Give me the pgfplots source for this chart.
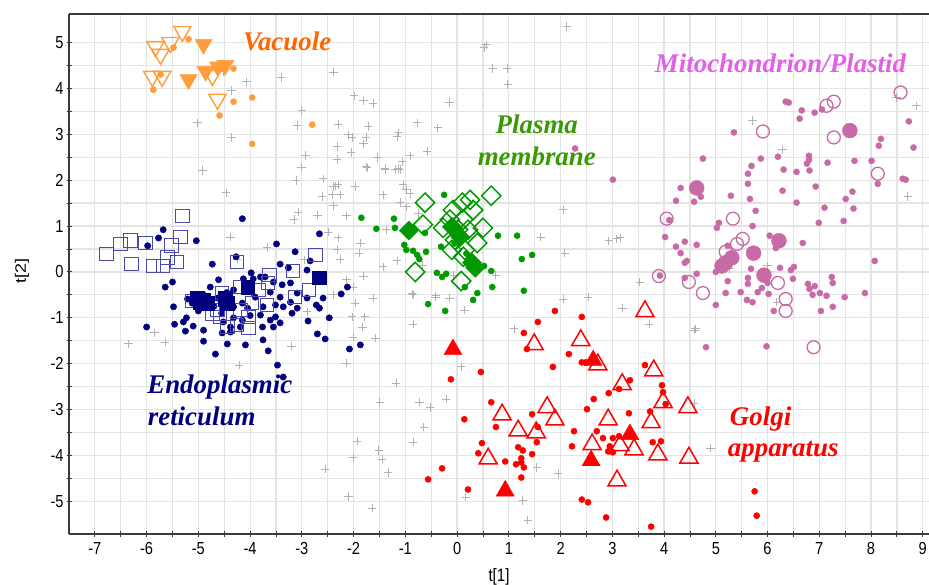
\documentclass[border=0pt]{standalone}
\usepackage{fontspec}
\setmainfont{Liberation Sans}
\newfontfamily\ann{Liberation Serif}
\usepackage{pgfplots}
\pgfplotsset{compat=1.18}
\definecolor{gcross}{HTML}{B2B2B2}
\definecolor{gridc}{HTML}{E4E4E4}
\definecolor{axc}{HTML}{3A3A3A}
\definecolor{vacm}{HTML}{FF9D3C}
\definecolor{vact}{HTML}{FF6600}
\definecolor{ern}{HTML}{000080}
\definecolor{ersq}{HTML}{4A4AAE}
\definecolor{pmg}{HTML}{009A00}
\definecolor{pmt}{HTML}{3A9A06}
\definecolor{gor}{HTML}{FF0000}
\definecolor{mit}{HTML}{C86AA6}
\definecolor{mitt}{HTML}{E060E6}
\begin{document}
\begin{tikzpicture}[x=1bp,y=1bp]
\begin{axis}[
  at={(69bp,51bp)}, anchor=south west,
  scale only axis, width=860bp, height=520bp,
  xmin=-7.5, xmax=9.12, ymin=-5.71, ymax=5.62,
  xtick={-7,-6,...,9}, ytick={-5,-4,...,5},
  minor tick num=1, grid=both,
  grid style={color=gridc, line width=1.2bp},
  minor grid style={color=gridc, line width=1.2bp},
  axis lines*=left,
  axis line style={line width=1.1bp, color=axc},
  tick align=center, major tick length=5bp, minor tick length=5bp,
  every tick/.style={color=axc, line width=0.9bp},
  /pgf/number format/assume math mode=true,
  tick label style={font=\fontsize{17.5}{17.5}\selectfont, xscale=0.84},
  xticklabel style={yshift=-2bp},
  yticklabel style={xshift=0bp},
  only marks,
]
% unassigned
\addplot[mark=+, mark size=4.2, gcross, line width=1bp] table {
-4.52 4.37
-4.36 3.95
-4.07 4.14
-3.40 4.24
-5.02 3.25
-4.36 2.93
-3.00 3.52
-3.09 3.19
-2.93 2.54
-3.01 2.28
-3.11 1.99
-4.92 2.21
-4.46 1.72
-3.07 1.30
-3.15 1.14
-2.70 1.24
-4.38 0.76
-3.67 0.53
-2.95 0.26
-2.61 1.64
-2.39 1.86
-2.30 1.90
-2.41 1.68
-2.26 1.68
-2.39 1.44
-1.97 1.86
-2.14 1.22
-2.49 0.87
-2.30 0.74
-2.32 0.48
-1.87 0.63
-1.89 0.41
-2.26 0.28
-1.81 -0.09
-2.14 -0.17
-2.01 -0.33
-2.39 -0.50
-1.97 -0.68
-1.62 -0.57
-2.03 -0.98
-1.78 -0.98
-1.83 -1.20
-2.01 -1.42
-1.58 -1.44
-2.14 -1.99
-2.90 -0.87
-3.20 -1.62
-4.21 -2.03
-5.85 -1.33
-5.64 -1.53
-6.35 -1.57
-4.25 0.28
-1.74 2.27
-1.39 2.25
-1.14 2.25
-1.06 2.40
-2.35 1.87
-1.04 1.90
-0.91 1.70
-1.43 1.68
-1.10 1.51
-0.98 1.42
-0.75 1.27
-1.37 0.92
-1.43 0.11
-1.16 0.24
-0.66 0.15
-0.87 -0.48
-0.42 -0.55
-0.15 -0.57
-0.06 -0.07
0.75 -0.07
0.14 -0.83
1.62 0.76
2.12 5.35
0.52 4.89
0.56 4.95
0.69 4.43
0.97 4.43
0.98 4.08
-2.39 4.35
-1.99 3.84
-1.81 3.73
-1.62 3.67
-0.15 3.69
-2.30 3.21
-1.72 3.17
-0.77 3.25
-0.37 3.14
-2.10 2.99
-2.03 2.93
-1.76 2.93
-1.81 2.79
-1.14 3.03
-1.16 2.95
-2.32 2.73
-2.32 2.45
-2.05 2.60
-1.54 2.49
-1.76 2.29
-1.39 2.23
-1.20 2.23
-1.10 2.23
-0.91 2.53
-0.58 2.62
-2.59 2.03
-0.98 1.79
-0.85 -0.50
-0.41 -0.52
2.05 -0.59
2.53 -0.55
3.20 -0.79
-0.85 -1.14
1.10 -1.24
3.71 -1.14
4.59 -1.27
0.08 -2.07
-0.73 -2.84
-0.52 -2.95
-0.21 -2.77
-0.64 -3.38
-0.85 -3.71
1.54 -4.26
1.95 -4.39
4.58 -2.86
4.90 -3.84
0.17 -4.91
1.27 -4.98
1.37 -5.41
8.49 3.80
8.88 3.62
5.71 3.30
6.29 2.66
8.71 1.64
6.00 0.13
5.27 0.07
6.18 -0.66
3.53 -0.22
4.61 -1.24
3.15 0.74
2.05 1.35
2.08 0.41
2.93 0.68
3.09 0.72
-1.18 -2.42
-1.49 -2.84
-1.93 -3.69
-1.51 -3.89
-1.45 -4.08
-2.01 -4.04
-2.55 -4.30
-1.33 -4.37
-2.10 -4.89
-1.64 -5.15
};
% Vacuole
\addplot[mark=*, mark size=3.1, vacm] table {
-5.19 5.07
-5.48 4.89
-5.73 4.30
-5.87 3.97
-4.32 4.43
-4.32 3.71
-3.96 3.80
-4.59 3.41
-3.96 2.79
-2.80 3.21
};
\addplot[mark=triangle, mark size=10, vacm, line width=1.4bp, mark options={rotate=180}] table {
-5.83 4.91
-5.73 4.74
-5.54 5.00
-5.31 5.24
-5.89 4.26
-5.70 4.26
-4.73 4.28
-4.63 3.76
};
\addplot[mark=triangle*, mark size=10, vacm, mark options={rotate=180}] table {
-4.90 4.96
-5.19 4.19
-4.86 4.37
-4.62 4.47
-4.48 4.50
};
% ER
\addplot[mark=*, mark size=3.2, ern] table {
-5.68 0.92
-5.77 0.74
-5.98 0.57
-5.04 0.68
-4.15 1.16
-3.49 0.61
-3.13 0.44
-4.73 0.17
-5.64 -0.33
-5.50 -0.22
-4.27 0.33
-2.84 0.24
-2.66 0.83
-3.98 -0.02
-3.42 0.17
-3.26 0.09
-2.90 0.04
-4.61 -0.17
-4.77 -0.33
-4.13 -0.15
-3.94 -0.15
-3.80 -0.11
-3.71 -0.11
-3.55 -0.22
-3.38 -0.28
-3.22 -0.24
-3.09 -0.46
-5.21 -0.59
-5.12 -0.68
-5.48 -0.76
-3.61 -0.44
-3.42 -0.55
-3.51 -0.72
-3.36 -0.76
-3.22 -0.66
-3.09 -0.79
-3.19 -0.90
-2.90 -0.57
-2.59 -0.57
-2.72 -0.72
-2.66 -0.79
-2.12 -0.33
-2.24 -0.48
-2.47 -1.00
-2.88 -1.07
-3.75 -0.76
-3.80 -0.94
-3.76 -1.20
-3.61 -1.05
-3.51 -0.98
-3.42 -1.11
-3.55 -1.20
-3.75 -1.48
-4.05 -0.79
-4.15 -0.68
-4.32 -0.76
-4.32 -1.00
-4.15 -1.05
-4.19 -1.20
-4.38 -1.20
-4.52 -1.09
-4.54 -1.33
-4.38 -1.31
-4.44 -1.57
-4.09 -1.59
-4.67 -1.79
-3.65 -1.72
-3.47 -2.03
-3.36 -2.29
-2.70 -1.35
-2.55 -1.46
-2.08 -1.68
-1.87 -1.59
-4.90 -1.27
-4.90 -1.51
-5.10 -1.18
-5.23 -1.00
-5.29 -1.09
-5.25 -1.29
-5.46 -1.14
-6.00 -1.20
-4.90 -0.50
-4.63 -0.57
-4.32 -0.39
-4.70 -0.75
-4.55 -0.90
-4.00 -0.95
-3.90 -0.55
-4.45 -0.45
-5.00 -0.85
};
\addplot[mark=square, mark size=6.8, ersq, line width=1bp] table {
-6.78 0.39
-6.51 0.61
-6.31 0.68
-6.02 0.63
-5.31 1.22
-5.35 0.76
-5.52 0.57
-6.29 0.17
-5.87 0.13
-5.68 0.13
-5.60 0.31
-5.41 0.22
-4.25 0.22
-2.74 0.37
-3.17 0.02
-3.63 -0.07
-2.86 -0.39
-3.13 -0.55
-4.54 -0.46
-5.12 -0.63
-4.19 -0.33
-3.84 -0.39
-3.65 -0.24
-4.58 -0.98
-4.44 -1.20
-4.03 -1.22
-4.03 -0.98
-4.19 -0.83
-3.67 -0.72
-3.96 -0.68
-4.25 -1.16
-4.63 -0.83
-4.73 -0.90
};
\addplot[mark=square*, mark size=6.8, ern] table {
-4.96 -0.66
-4.83 -0.68
-4.48 -0.57
-4.05 -0.33
-2.66 -0.13
-5.02 -0.57
-4.44 -0.68
-4.90 -0.62
};
% Plasma membrane
\addplot[mark=*, mark size=3.1, pmg] table {
-0.25 1.68
-1.85 1.18
-1.56 0.94
-1.22 1.16
-1.20 0.96
-1.02 0.59
-0.98 0.48
-0.85 0.46
-0.77 0.37
-0.73 0.28
-0.60 0.44
-0.62 0.85
-0.31 0.55
-0.39 -0.02
-0.21 -0.04
-0.29 -0.11
-0.56 -0.70
-0.23 -0.85
0.15 -0.33
0.39 -0.46
0.31 -0.61
0.52 0.13
0.66 0.02
0.68 -0.33
0.79 0.79
1.16 0.79
1.25 0.28
1.45 0.37
1.29 -0.41
-0.05 0.62
0.18 0.40
};
\addplot[mark=square, mark size=6.8, pmg, line width=1.5bp, mark options={rotate=45}] table {
-0.62 1.51
-0.66 1.03
-0.81 0.00
0.08 -0.20
0.66 1.66
0.50 0.96
-0.27 0.96
-0.08 1.35
0.10 1.51
0.25 1.57
0.31 1.35
0.12 1.14
-0.04 0.70
0.15 0.48
-0.10 0.48
0.12 0.33
0.39 0.63
0.21 0.92
0.02 0.92
-0.14 1.14
};
\addplot[mark=square*, mark size=6.8, pmg, mark options={rotate=45}] table {
-0.93 0.90
0.29 0.20
0.35 0.09
-0.10 0.98
0.06 0.76
};
% Golgi
\addplot[mark=*, mark size=3.1, gor] table {
1.89 -0.85
2.41 -0.98
1.56 -1.09
1.29 -1.33
1.35 -1.68
2.16 -1.79
2.41 -1.97
2.49 -1.97
1.85 -2.07
0.46 -2.18
-0.12 -2.34
3.63 -2.03
3.34 -2.36
3.13 -2.55
2.93 -2.64
2.64 -2.77
3.96 -2.47
3.98 -2.62
4.03 -2.88
0.66 -2.84
2.51 -2.99
3.32 -3.08
3.73 -3.04
0.14 -3.21
1.45 -3.10
0.75 -3.38
1.56 -3.38
2.26 -3.47
2.70 -3.47
2.82 -3.62
3.01 -3.62
3.13 -3.58
1.54 -3.71
0.48 -3.73
2.22 -3.80
1.18 -3.82
1.27 -3.89
2.95 -3.80
2.92 -3.91
3.01 -3.93
3.78 -3.71
3.94 -3.69
0.41 -3.95
1.45 -3.97
1.24 -4.06
1.24 -4.15
0.93 -4.13
1.14 -4.19
1.29 -4.26
-0.29 -4.28
1.24 -4.48
-0.56 -4.52
0.21 -4.74
2.41 -4.96
2.53 -5.02
2.88 -5.35
3.75 -5.55
5.75 -4.78
5.79 -5.31
};
\addplot[mark=triangle, mark size=10.5, gor, line width=1.5bp] table {
3.63 -0.86
1.49 -1.58
2.39 -1.49
2.72 -2.02
3.80 -2.15
3.19 -2.45
3.98 -2.84
4.46 -2.95
0.87 -3.11
1.74 -2.95
1.89 -3.22
1.18 -3.46
1.53 -3.50
2.92 -3.22
3.75 -3.28
2.61 -3.76
3.15 -3.78
3.42 -3.87
3.88 -3.98
4.48 -4.05
0.60 -4.07
3.09 -4.55
};
\addplot[mark=triangle*, mark size=10.5, gor] table {
-0.08 -1.69
2.63 -1.93
3.34 -3.54
2.59 -4.11
0.93 -4.77
};
% Mitochondrion / Plastid
\addplot[mark=*, mark size=3.1, mit] table {
6.35 3.71
6.41 3.69
6.66 3.52
6.91 3.47
7.05 3.54
6.62 3.34
8.73 3.28
8.82 2.71
8.19 2.90
8.15 2.75
5.35 3.04
4.75 2.47
5.87 2.47
6.20 2.51
6.80 2.53
6.80 2.44
6.76 2.36
7.16 2.38
7.68 2.42
8.01 2.42
5.69 2.31
6.31 2.23
6.56 2.18
6.81 2.21
5.62 2.14
5.62 1.92
8.61 2.03
8.67 2.01
8.13 1.92
4.32 1.83
4.71 1.64
4.58 1.53
4.23 1.55
5.29 1.66
5.66 1.59
6.29 1.77
6.93 1.86
7.64 1.75
7.51 1.59
7.66 1.38
6.56 1.51
7.10 1.40
5.77 1.33
7.47 1.11
6.99 1.07
5.71 1.00
5.06 1.07
5.02 0.96
4.02 0.76
4.40 0.66
4.63 0.59
4.23 0.55
4.32 0.41
4.44 0.24
4.40 0.20
5.23 0.57
6.04 0.79
6.16 0.52
6.68 0.63
8.07 0.24
4.63 -0.04
5.00 0.00
4.40 -0.13
5.68 0.07
6.24 0.09
6.45 0.04
6.51 0.11
5.62 -0.13
5.62 -0.26
6.00 -0.24
5.23 -0.20
6.49 -0.15
7.24 -0.11
7.26 -0.24
6.78 -0.26
6.81 -0.37
6.91 -0.31
6.87 -0.50
7.01 -0.46
7.14 -0.52
7.49 -0.55
7.88 -0.46
7.26 -0.76
7.03 -0.85
5.81 -0.44
5.89 -0.35
5.48 -0.44
5.19 -0.46
5.60 -0.61
5.71 -0.66
6.02 -0.48
6.12 -0.85
5.00 -0.72
4.81 -1.64
5.98 -1.62
2.28 2.69
3.01 2.01
4.10 1.13
3.92 -0.08
};
\addplot[mark=o, mark size=6.5, mit, line width=1.3bp] table {
8.57 3.91
7.28 3.71
7.14 3.62
5.91 3.06
7.28 2.93
8.13 2.14
4.05 1.16
5.33 1.16
5.52 0.72
5.41 0.61
5.19 0.44
3.90 -0.09
4.48 -0.22
4.75 -0.46
6.20 -0.24
6.35 -0.59
6.35 -0.85
6.89 -1.64
};
\addplot[mark=*, mark size=7.5, mit] table {
7.59 3.08
4.63 1.83
6.22 0.68
5.73 0.41
5.31 0.31
5.19 0.20
5.12 0.13
5.93 -0.07
};
% annotations
\node[anchor=base west, font=\ann\bfseries\itshape\fontsize{27}{27}\selectfont, text=vact, inner sep=0pt] at (axis cs:-4.14,4.83) {Vacuole};
\node[anchor=base west, font=\ann\bfseries\itshape\fontsize{27}{27}\selectfont, text=mitt, inner sep=0pt] at (axis cs:3.82,4.35) {Mitochondrion/Plastid};
\node[anchor=base, font=\ann\bfseries\itshape\fontsize{27}{27}\selectfont, text=pmt, inner sep=0pt] at (axis cs:1.54,3.02) {Plasma};
\node[anchor=base, font=\ann\bfseries\itshape\fontsize{27}{27}\selectfont, text=pmt, inner sep=0pt] at (axis cs:1.54,2.31) {membrane};
\node[anchor=base west, font=\ann\bfseries\itshape\fontsize{27}{27}\selectfont, text=ern, inner sep=0pt] at (axis cs:-5.99,-2.64) {Endoplasmic};
\node[anchor=base west, font=\ann\bfseries\itshape\fontsize{27}{27}\selectfont, text=ern, inner sep=0pt] at (axis cs:-5.98,-3.34) {reticulum};
\node[anchor=base west, font=\ann\bfseries\itshape\fontsize{27}{27}\selectfont, text=gor, inner sep=0pt] at (axis cs:5.27,-3.34) {Golgi};
\node[anchor=base west, font=\ann\bfseries\itshape\fontsize{27}{27}\selectfont, text=gor, inner sep=0pt] at (axis cs:5.23,-4.03) {apparatus};
\end{axis}
\draw[axc, line width=1.1bp] (69bp,571bp) -- (929bp,571bp);
\node[font=\fontsize{18}{18}\selectfont, xscale=0.84] at (499bp,8bp) {t[1]};
\node[font=\fontsize{18}{18}\selectfont, xscale=0.84, rotate=90] at (22bp,314bp) {t[2]};
\pgfresetboundingbox
\path[use as bounding box] (0bp,0bp) rectangle (929bp,585bp);
\end{tikzpicture}
\end{document}
